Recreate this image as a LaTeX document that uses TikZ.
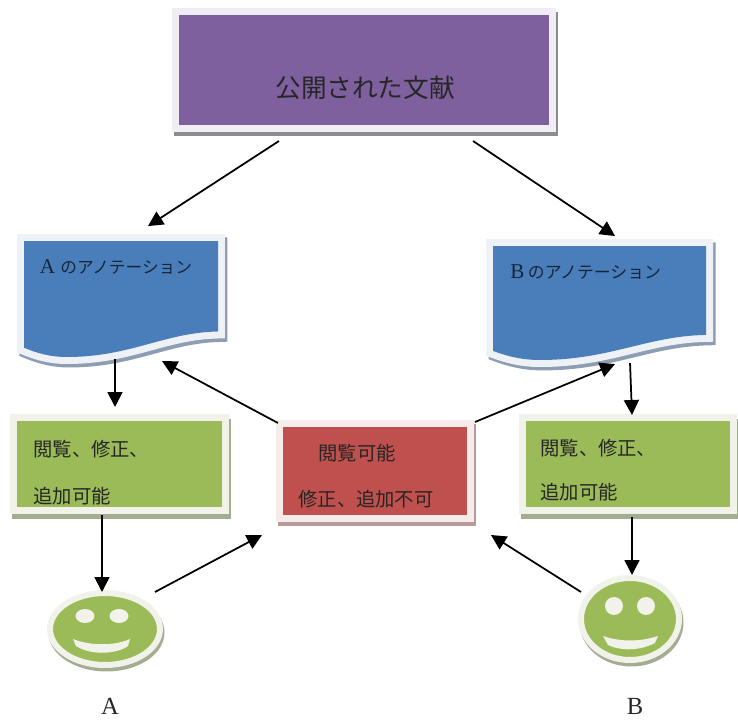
\documentclass[tikz,border=0pt]{standalone}
\usepackage{fontspec}
\setmainfont{Liberation Serif}
\newfontfamily\cjk{Noto Sans CJK JP}
\usetikzlibrary{shapes.geometric}
\usetikzlibrary{arrows.meta}
\definecolor{purplefill}{HTML}{7F609F}
\definecolor{bluefill}{HTML}{4A7EBB}
\definecolor{greenfill}{HTML}{9BBB59}
\definecolor{redfill}{HTML}{C0504D}
\definecolor{purpleframe}{HTML}{F0EEF4}
\definecolor{blueframe}{HTML}{EEF2F7}
\definecolor{greenframe}{HTML}{F1F3EB}
\definecolor{redframe}{HTML}{F6ECEC}
\definecolor{blueshade}{HTML}{8E9DB2}
\definecolor{greenshade}{HTML}{A4AC92}
\definecolor{redshade}{HTML}{B89A9A}
\tikzset{
    mybox/.style = {rectangle, line width=.14cm, outer sep=0pt, inner sep=0pt},
    myboxp/.style = {mybox, draw=purpleframe, fill=purplefill, minimum width=7.56cm, minimum height=2.34cm,
        preaction={draw=black!45, fill=black!45, transform canvas={xshift=.04cm,yshift=-.08cm}}},
    myboxg/.style = {mybox, draw=greenframe, fill=greenfill, minimum width=4.24cm, minimum height=1.86cm,
        preaction={draw=greenshade, fill=greenshade, transform canvas={xshift=.04cm,yshift=-.1cm}}},
    myboxr/.style = {mybox, draw=redframe, fill=redfill, minimum width=3.82cm, minimum height=1.9cm,
        preaction={draw=redshade, fill=redshade, transform canvas={xshift=.04cm,yshift=-.08cm}}},
    myface/.style = {ellipse, line width=.12cm, outer sep=0pt, inner sep=0pt, draw=greenframe, fill=greenfill,
        preaction={draw=greenshade, fill=greenshade, transform canvas={xshift=.03cm,yshift=-.07cm}}},
    myeye/.style = {ellipse, inner sep=0pt, fill=greenframe},
    mymouth/.style = {fill=greenframe},
    mytext/.style = {anchor=west, inner sep=0pt, text=black!85, font=\cjk\fontsize{11}{14}\selectfont},
    mytextl/.style = {mytext, font=\cjk\fontsize{14.6}{18}\selectfont},
    mytextd/.style = {anchor=west, inner sep=0pt, text=black!70!bluefill, font=\fontsize{12}{14}\selectfont},
    myname/.style = {inner sep=0pt, text=black!85, font=\fontsize{14}{16}\selectfont},
    edgen/.style = {-{Triangle[length=.3cm,width=.3cm]}, line width=1pt, black},
    docsheet/.pic = {
        \def\docpath{(0,0) -- (1,0) -- (1,.78) .. controls (.72,.79) and (.55,1) .. (.22,1) .. controls (.14,1) and (.07,.97) .. (0,.92) -- cycle}
        \draw[line width=.28cm, draw=blueshade, shift={(.012,.03)}] \docpath;
        \draw[line width=.28cm, draw=blueframe] \docpath;
        \fill[bluefill] \docpath;
        \node[mytextd] (-title) at (.08,.225) {#1};
    }
}

\begin{document}
\begin{tikzpicture}[x=.02cm,y=-.02cm]
\useasboundingbox (0,0) rectangle (738,720);

\node[myboxp] at (364,70) (top) {};
\node[myboxg] at (119.5,464) (greena) {};
\node[myboxg] at (628,464) (greenb) {};
\node[myboxr] at (375,471) (red) {};
\node[myface, minimum width=2.2cm, minimum height=1.44cm] at (105,629) (facea) {};
\node[myface, minimum width=1.96cm, minimum height=1.64cm] at (630,619) (faceb) {};

\pic[xscale=194,yscale=116] (doca) at (24,241) {docsheet={A\kern3pt{\cjk\fontsize{9.5}{12}\selectfont のアノテーション}}};
\pic[xscale=213,yscale=114] (docb) at (493,246) {docsheet={B\kern2pt{\cjk\fontsize{9.6}{12}\selectfont のアノテーション}}};

\node[mytextl] at (275,88) (toptext) {公開された文献};
\node[mytext] at (33,449) (greenatexta) {閲覧、修正、};
\node[mytext] at (33,496) (greenatextb) {追加可能};
\node[mytext] at (540,448) (greenbtexta) {閲覧、修正、};
\node[mytext] at (540,492) (greenbtextb) {追加可能};
\node[mytext] at (318,453) (redtexta) {閲覧可能};
\node[mytext] at (298,499) (redtextb) {修正、追加不可};

\node[myeye, minimum width=.38cm, minimum height=.28cm] at (85,616) (eyeaa) {};
\node[myeye, minimum width=.38cm, minimum height=.28cm] at (119,616) (eyeab) {};
\node[myeye, minimum width=.36cm, minimum height=.36cm] at (614,606) (eyeba) {};
\node[myeye, minimum width=.36cm, minimum height=.36cm] at (646,606) (eyebb) {};
\fill[mymouth] (73,639) .. controls (90,646) and (115,646) .. (130,639) -- (128,646) .. controls (115,655) and (90,655) .. (76,646) -- cycle;
\fill[mymouth] (603,636) .. controls (620,642) and (640,642) .. (658,636) -- (655,643) .. controls (640,651) and (620,651) .. (608,645) -- cycle;

\node[myname] at (110,706) (namea) {A};
\node[myname] at (635,706) (nameb) {B};

\draw[edgen] ([shift={(-85,71)}]top.center) -- ([shift={(108.5,-41)}]doca-title.west);
\draw[edgen] ([shift={(109,71)}]top.center) -- ([shift={(105,-35.6)}]docb-title.west);
\draw[edgen] ([shift={(75.5,92)}]doca-title.west) -- ([shift={(-4.5,-57)}]greena.center);
\draw[edgen] ([shift={(120,91.4)}]docb-title.west) -- ([shift={(4,-49)}]greenb.center);
\draw[edgen] ([shift={(-97,-48)}]red.center) -- ([shift={(122.5,94)}]doca-title.west);
\draw[edgen] ([shift={(100,-49)}]red.center) -- ([shift={(105,92.4)}]docb-title.west);
\draw[edgen] ([shift={(-17.5,51)}]greena.center) -- ([shift={(-3,-37)}]facea.center);
\draw[edgen] ([shift={(4,53)}]greenb.center) -- ([shift={(2,-44)}]faceb.center);
\draw[edgen] ([shift={(50,-37)}]facea.center) -- ([shift={(-113,64)}]red.center);
\draw[edgen] ([shift={(-49,-27)}]faceb.center) -- ([shift={(116,64)}]red.center);

\end{tikzpicture}
\end{document}
